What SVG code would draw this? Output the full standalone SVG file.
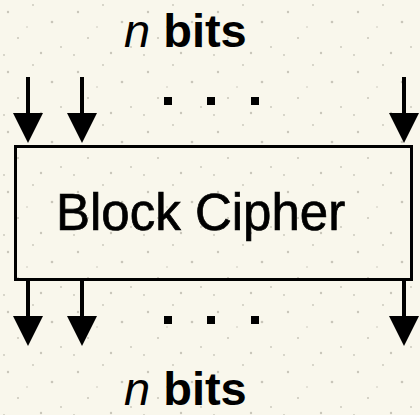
<svg xmlns="http://www.w3.org/2000/svg" width="420" height="415" viewBox="0 0 420 415">
<style>
.shaft{stroke:#000;stroke-width:4;fill:none}
.head{fill:#000}
.lbl{font-family:"Liberation Sans",Arial,sans-serif;fill:#000}
.dot{fill:#000}
.sp{fill:#C9C6BA}
</style>
<defs>
<pattern id="speckle" width="70" height="60" patternUnits="userSpaceOnUse">
<rect width="70" height="60" fill="#F9F7EC"/>
<circle class="sp" cx="8" cy="12" r="1.2"/>
<circle class="sp" cx="33" cy="5" r="0.9"/>
<circle class="sp" cx="52" cy="22" r="1.3"/>
<circle class="sp" cx="18" cy="38" r="1"/>
<circle class="sp" cx="61" cy="47" r="0.9"/>
<circle class="sp" cx="41" cy="53" r="1.2"/>
<circle class="sp" cx="27" cy="27" r="0.8"/>
<circle class="sp" cx="4" cy="55" r="0.9"/>
</pattern>
</defs>
<rect x="0" y="0" width="420" height="415" fill="url(#speckle)"/>
<g id="top-label">
<text class="lbl" x="124" y="47" font-size="47"><tspan font-style="italic">n</tspan><tspan font-weight="bold"> bits</tspan></text>
</g>
<g id="top-dots">
<rect class="dot" x="164" y="97" width="8" height="8"/>
<rect class="dot" x="207" y="97" width="8" height="8"/>
<rect class="dot" x="251" y="97" width="8" height="8"/>
</g>
<g id="block-cipher">
<rect x="15.5" y="146.5" width="396" height="133" fill="none" stroke="#000" stroke-width="3"/>
<text class="lbl" x="56" y="230" font-size="51" stroke="#000" stroke-width="0.7">Block Cipher</text>
</g>
<g id="connectors">
<line class="shaft" x1="28" y1="77" x2="28" y2="114"/>
<polygon class="head" points="13,113 43,113 28,143"/>
<line class="shaft" x1="82" y1="77" x2="82" y2="114"/>
<polygon class="head" points="67,113 97,113 82,143"/>
<line class="shaft" x1="404" y1="77" x2="404" y2="114"/>
<polygon class="head" points="389,113 419,113 404,143"/>
<line class="shaft" x1="28" y1="280" x2="28" y2="317"/>
<polygon class="head" points="13,316 43,316 28,346"/>
<line class="shaft" x1="82" y1="280" x2="82" y2="317"/>
<polygon class="head" points="67,316 97,316 82,346"/>
<line class="shaft" x1="404" y1="280" x2="404" y2="317"/>
<polygon class="head" points="389,316 419,316 404,346"/>
</g>
<g id="bottom-dots">
<rect class="dot" x="164" y="316" width="8" height="8"/>
<rect class="dot" x="207" y="316" width="8" height="8"/>
<rect class="dot" x="251" y="316" width="8" height="8"/>
</g>
<g id="bottom-label">
<text class="lbl" x="124" y="405" font-size="47"><tspan font-style="italic">n</tspan><tspan font-weight="bold"> bits</tspan></text>
</g>
</svg>
